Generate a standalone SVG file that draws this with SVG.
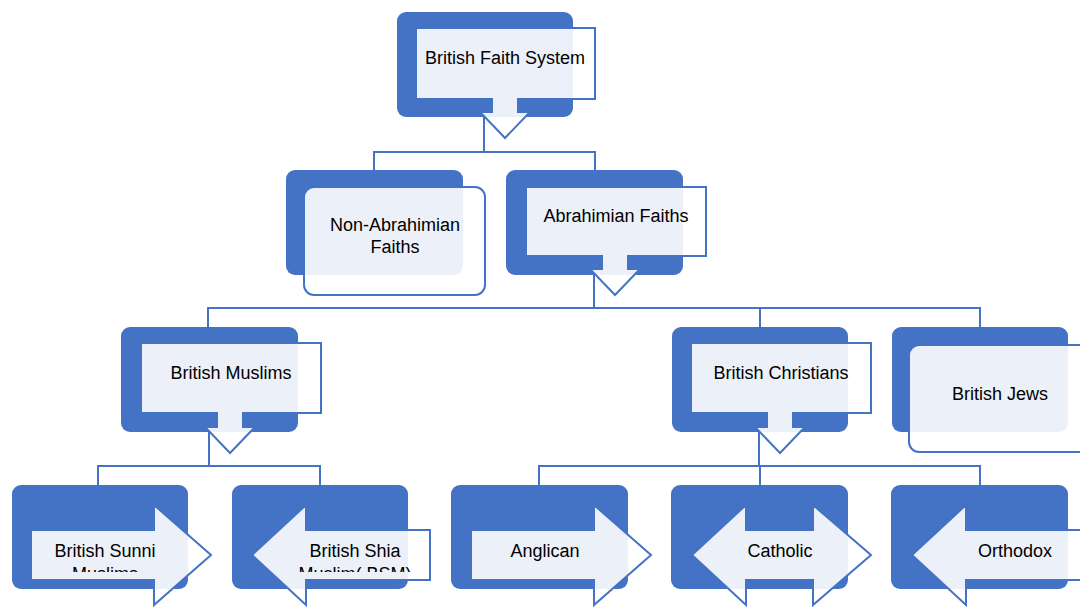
<svg xmlns="http://www.w3.org/2000/svg" width="1080" height="608" viewBox="0 0 1080 608">
<style>
.bg{fill:#4472C4;}
.fg{fill:#FFFFFF;fill-opacity:0.9;stroke:#4472C4;stroke-width:2;stroke-linejoin:miter;}
.t{font-family:"Liberation Sans",Arial,sans-serif;font-size:18px;fill:#000;text-anchor:middle;}
.c{fill:none;stroke:#4472C4;stroke-width:2;}
</style>
<defs>
<clipPath id="clip4"><rect x="0" y="520" width="1080" height="52"/></clipPath>
</defs>
<rect width="1080" height="608" fill="#FFFFFF"/>
<g id="n-british-faith-system">
<rect class="bg" x="397" y="12" width="176" height="105" rx="9"/>
<path class="fg" d="M416,28 H595 V99 H518 V112 H530 L505,138 L480,112 H492 V99 H416 Z"/>
<text class="t" x="505" y="64">British Faith System</text>
</g>
<g id="n-non-abrahimian">
<rect class="bg" x="286" y="170" width="177" height="105" rx="9"/>
<rect class="fg" x="304" y="187" width="181" height="108" rx="10"/>
<text class="t" x="395" y="231">Non-Abrahimian</text>
<text class="t" x="395" y="253">Faiths</text>
</g>
<g id="n-abrahimian">
<rect class="bg" x="506" y="170" width="177" height="105" rx="9"/>
<path class="fg" d="M526,187 H706 V256 H628 V269 H640 L615,295 L590,269 H602 V256 H526 Z"/>
<text class="t" x="616" y="222">Abrahimian Faiths</text>
</g>
<g id="n-british-muslims">
<rect class="bg" x="121" y="327" width="177" height="105" rx="9"/>
<path class="fg" d="M141,343 H321 V413 H243 V427 H255 L230,453 L205,427 H217 V413 H141 Z"/>
<text class="t" x="231" y="379">British Muslims</text>
</g>
<g id="n-british-christians">
<rect class="bg" x="672" y="327" width="176" height="105" rx="9"/>
<path class="fg" d="M691,343 H871 V413 H793 V427 H805 L780,453 L755,427 H767 V413 H691 Z"/>
<text class="t" x="781" y="379">British Christians</text>
</g>
<g id="n-british-jews">
<rect class="bg" x="892" y="327" width="176" height="105" rx="9"/>
<rect class="fg" x="909" y="345" width="185" height="107" rx="10"/>
<text class="t" x="1000" y="400">British Jews</text>
</g>
<g id="n-sunni">
<rect class="bg" x="12" y="485" width="176" height="104" rx="9"/>
<path class="fg" d="M31,530 H154 V505 L211,555 L154,605 V580 H31 Z"/>
<g clip-path="url(#clip4)">
<text class="t" x="105" y="557">British Sunni</text>
<text class="t" x="105" y="580">Muslims</text>
</g>
</g>
<g id="n-shia">
<rect class="bg" x="232" y="485" width="176" height="104" rx="9"/>
<path class="fg" d="M252,555 L306,505 V530 H430 V580 H306 V605 Z"/>
<g clip-path="url(#clip4)">
<text class="t" x="355" y="557">British Shia</text>
<text class="t" x="355" y="580">Muslim( BSM)</text>
</g>
</g>
<g id="n-anglican">
<rect class="bg" x="451" y="485" width="177" height="104" rx="9"/>
<path class="fg" d="M471,530 H594 V505 L651,555 L594,605 V580 H471 Z"/>
<text class="t" x="545" y="557">Anglican</text>
</g>
<g id="n-catholic">
<rect class="bg" x="671" y="485" width="177" height="104" rx="9"/>
<path class="fg" d="M692,555 L746,505 V530 H813 V505 L871,555 L813,605 V580 H746 V605 Z"/>
<text class="t" x="780" y="557">Catholic</text>
</g>
<g id="n-orthodox">
<rect class="bg" x="891" y="485" width="177" height="104" rx="9"/>
<path class="fg" d="M912,555 L966,505 V530 H1090 V580 H966 V605 Z"/>
<text class="t" x="1015" y="557">Orthodox</text>
</g>
<g id="connectors">
<path class="c" d="M484,117 V152 M374,152 H595 M374,151 V170 M595,151 V170"/>
<path class="c" d="M594,275 V308 M208,308 H981 M208,307 V327 M760,307 V327 M980,307 V327"/>
<path class="c" d="M209,432 V466 M98,466 H320 M98,465 V485 M320,465 V485"/>
<path class="c" d="M759,432 V466 M539,466 H981 M539,465 V485 M760,465 V485 M980,465 V485"/>
</g>
</svg>
